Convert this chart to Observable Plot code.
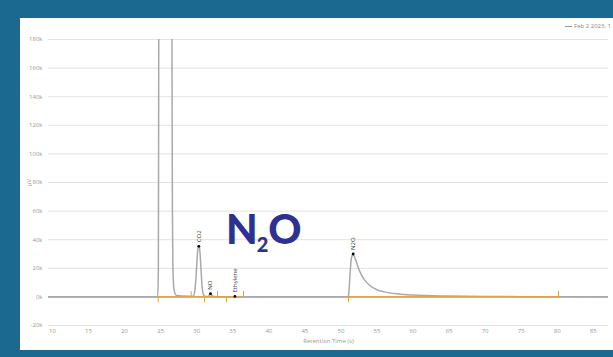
<!DOCTYPE html>
<html>
<head>
<meta charset="utf-8">
<script src="https://cdn.jsdelivr.net/npm/d3@7"></script>
<script src="https://cdn.jsdelivr.net/npm/@observablehq/plot@0.6"></script>
<style>
  html, body { margin: 0; padding: 0; }
  body { width: 613px; height: 357px; background: #1b6890; position: relative; overflow: hidden; font-family: "Open Sans", sans-serif; }
  #panel { position: absolute; left: 20px; top: 18px; width: 593px; height: 332px; background: #fff; overflow: hidden; }
  #chart { position: absolute; left: 0; top: 0; }
  #legend { position: absolute; right: 2px; top: 4px; font-size: 6px; color: #888; white-space: nowrap; }
  #legend .sw { display: inline-block; width: 7px; height: 1px; background: #999; vertical-align: middle; margin-right: 2px; }
  #big { position: absolute; left: 206px; top: 190px; font-family: "Lato", sans-serif; font-weight: 900; font-size: 41px; color: #2e3192; line-height: 1; }
  #big sub { font-size: 20px; vertical-align: -8px; margin-left: -1px; }
</style>
</head>
<body>
<div id="panel">
  <div id="chart"></div>
  <div id="legend"><span class="sw"></span>Feb 2 2023, 1</div>
  <div id="big">N<sub>2</sub>O</div>
</div>
<script>
// Chromatogram signal (retention time in s, signal in µV)
const times = [9.45, 24.6, 24.68, 24.72, 24.76, 26.5, 26.58, 26.63, 26.7, 26.8, 26.95, 27.2, 28.0, 29.2,
  29.5, 29.7, 29.85, 30.0, 30.1, 30.2, 30.29, 30.38, 30.5, 30.6, 30.72, 30.85, 31.0, 31.1,
  31.5, 31.7, 31.91, 32.1, 32.35, 33.0, 35.0, 35.3, 35.6, 36.5, 51.0,
  51.1, 51.25, 51.4, 51.55, 51.7, 51.85, 52.0, 52.3, 52.6, 53.0, 53.5, 54.0, 55.0, 56.0, 58.0, 60.0, 65.0, 70.0, 75.0, 80.0, 87.1];
const signal = [0, 0, 20000, 120000, 300000, 300000, 150000, 60000, 20000, 8000, 3000, 1000, 600, 500,
  500, 3000, 10000, 22000, 30000, 34500, 35400, 34500, 28000, 19000, 9000, 3000, 1000, 500,
  300, 1000, 2200, 1200, 300, 100, 0, 300, 0, 0, 0,
  3000, 15000, 25000, 29000, 30000, 28500, 26500, 22000, 18000, 14000, 10500, 8000, 5000, 3500, 2000, 1300, 600, 300, 150, 100, 0];

// Labelled peaks
const peakNames = ["CO2", "NO", "Ethylene", "N2O"];
const peakTimes = [30.29, 31.91, 35.3, 51.7];
const peakHeights = [35400, 2200, 300, 30000];

// Integration baselines and their start / end markers
const baselineFrom = [24.66, 51.05];
const baselineTo = [36.49, 80.18];
const markStarts = [24.66, 31.08, 34.13, 51.05];
const markEnds = [29.24, 32.88, 36.49, 80.18];

// Axis ticks
const xTicks = [10, 15, 20, 25, 30, 35, 40, 45, 50, 55, 60, 65, 70, 75, 80, 85];
const yTicks = [-20000, 0, 20000, 40000, 60000, 80000, 100000, 120000, 140000, 160000, 180000];

const series = times.map((t, i) => ({t, v: signal[i]}));
const peaks = peakNames.map((name, i) => ({name, t: peakTimes[i], v: peakHeights[i]}));
const baselines = baselineFrom.map((a, i) => ({a, b: baselineTo[i]}));
const orange = "#e8a23c";

const chart = Plot.plot({
  width: 593,
  height: 332,
  marginLeft: 28,
  marginRight: 5,
  marginTop: 21,
  marginBottom: 25,
  style: {fontSize: "6px", fontFamily: "Open Sans, sans-serif", color: "#999", background: "transparent"},
  x: {domain: [9.445, 87.11]},
  y: {domain: [-20000, 180000]},
  marks: [
    Plot.gridY(yTicks, {stroke: "#e3e3e3", strokeOpacity: 1, strokeWidth: 1}),
    Plot.ruleY([0], {stroke: "#888", strokeWidth: 1}),
    Plot.line(series, {x: "t", y: "v", stroke: "#a9a9a9", strokeWidth: 1.5, clip: true, curve: "monotone-x"}),
    Plot.link(baselines, {x1: "a", x2: "b", y1: 0, y2: 0, stroke: orange, strokeWidth: 1.2}),
    Plot.ruleX(markStarts, {y1: 0, y2: -4200, stroke: orange, strokeWidth: 1}),
    Plot.ruleX(markEnds, {y1: 0, y2: 3800, stroke: orange, strokeWidth: 1}),
    Plot.dot(peaks, {x: "t", y: "v", r: 1.4, fill: "#000"}),
    Plot.text(peaks, {x: "t", y: "v", text: "name", rotate: -90, textAnchor: "start", dy: -4, fontSize: 6, fill: "#444"}),
    Plot.axisX(xTicks, {tickSize: 0, tickPadding: 3, label: "Retention Time (s)", labelAnchor: "center", labelArrow: "none", labelOffset: 17, fill: "#999"}),
    Plot.axisY(yTicks, {tickSize: 0, tickPadding: 6, tickFormat: d => (d / 1000) + "k", label: "µV", labelAnchor: "center", labelArrow: "none", labelOffset: 22, fill: "#999"})
  ]
});
document.getElementById("chart").appendChild(chart);
</script>
</body>
</html>
